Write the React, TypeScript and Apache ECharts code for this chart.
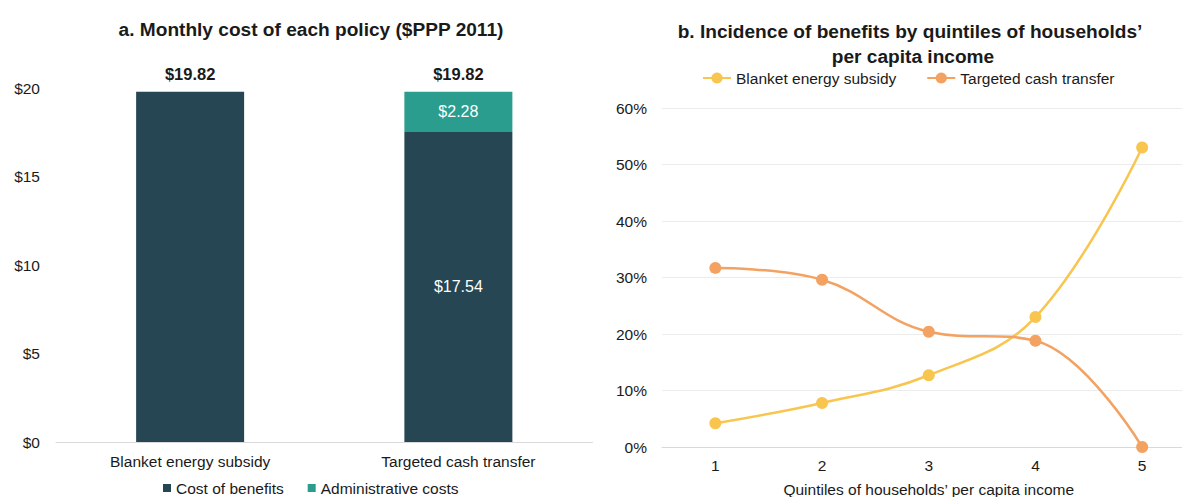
import React, { useEffect, useRef } from "react";
import * as echarts from "echarts";

const categories = ["Blanket energy subsidy", "Targeted cash transfer"];
const costOfBenefits = [19.82, 17.54];
const adminCosts = [0, 2.28];
const costTicksMax = 20;
const costTickStep = 5;

const quintiles = ["1", "2", "3", "4", "5"];
const blanketSubsidy = [4.2, 7.8, 12.7, 23.0, 53.0];
const targetedTransfer = [31.7, 29.6, 20.4, 18.8, 0.0];
const shareTicksMax = 60;
const shareTickStep = 10;

const titleA = "a. Monthly cost of each policy ($PPP 2011)";
const titleB1 = "b. Incidence of benefits by quintiles of households’";
const titleB2 = "per capita income";
const xNameB = "Quintiles of households’ per capita income";

const FONT = '"Liberation Sans", Arial, Helvetica, sans-serif';
const TXT = "#1a1a1a";
const DARK = "#264653";
const TEAL = "#2A9D8F";
const YELLOW = "#F8C64E";
const ORANGE = "#F4A261";
const LBL = 15.5;

export default function App() {
  const ref = useRef<HTMLDivElement>(null);
  useEffect(() => {
    if (!ref.current) return;
    const chart = echarts.init(ref.current, null, { renderer: "svg" });
    const totals = categories.map((_, i) => costOfBenefits[i] + adminCosts[i]);
    const money = (v: number) => "$" + v.toFixed(2);
    const titleStyle = {
      textAlign: "center",
      textVerticalAlign: "middle",
      fontSize: 19.1,
      fontWeight: "bold",
      fontFamily: FONT,
      fill: TXT,
    };
    const option: any = {
      animation: false,
      textStyle: { fontFamily: FONT, color: TXT },
      graphic: [
        { type: "text", x: 311, y: 29, style: { ...titleStyle, text: titleA } },
        { type: "text", x: 910, y: 31, style: { ...titleStyle, text: titleB1 } },
        { type: "text", x: 913, y: 56, style: { ...titleStyle, text: titleB2 } },
      ],
      legend: [
        {
          data: ["Cost of benefits", "Administrative costs"],
          left: 163,
          top: 480,
          padding: 0,
          itemWidth: 8,
          itemHeight: 8,
          itemGap: 24,
          icon: "rect",
          textStyle: { fontSize: LBL, color: TXT, fontFamily: FONT },
        },
        {
          data: ["Blanket energy subsidy", "Targeted cash transfer"],
          left: 702,
          top: 70,
          padding: 0,
          itemWidth: 28,
          itemHeight: 14,
          itemGap: 30,
          textStyle: { fontSize: LBL, color: TXT, fontFamily: FONT },
        },
      ],
      grid: [
        { left: 56, top: 88.5, width: 536.5, height: 353.5, outerBoundsMode: "none", containLabel: false },
        { left: 662, top: 108, width: 533.5, height: 339, outerBoundsMode: "none", containLabel: false },
      ],
      xAxis: [
        {
          type: "category",
          gridIndex: 0,
          data: categories,
          axisLine: { lineStyle: { color: "#d9d9d9", width: 1 } },
          axisTick: { show: false },
          axisLabel: { fontSize: LBL, color: TXT, margin: 11, fontFamily: FONT },
        },
        {
          type: "category",
          gridIndex: 1,
          data: quintiles,
          name: xNameB,
          nameLocation: "middle",
          nameGap: 34,
          nameTextStyle: { fontSize: LBL, color: TXT, fontFamily: FONT },
          axisLine: { lineStyle: { color: "#d9d9d9", width: 1 } },
          axisTick: { show: false },
          axisLabel: { fontSize: LBL, color: TXT, margin: 10, fontFamily: FONT },
        },
      ],
      yAxis: [
        {
          type: "value",
          gridIndex: 0,
          min: 0,
          max: costTicksMax,
          interval: costTickStep,
          axisLine: { show: false },
          axisTick: { show: false },
          splitLine: { show: false },
          axisLabel: {
            fontSize: LBL,
            color: TXT,
            margin: 16,
            fontFamily: FONT,
            formatter: (v: number) => "$" + v,
          },
        },
        {
          type: "value",
          gridIndex: 1,
          min: 0,
          max: shareTicksMax,
          interval: shareTickStep,
          axisLine: { show: false },
          axisTick: { show: false },
          splitLine: { lineStyle: { color: "#ececec", width: 1 } },
          axisLabel: {
            fontSize: LBL,
            color: TXT,
            margin: 15,
            fontFamily: FONT,
            formatter: (v: number) => v + "%",
          },
        },
      ],
      series: [
        {
          name: "Cost of benefits",
          type: "bar",
          xAxisIndex: 0,
          yAxisIndex: 0,
          stack: "cost",
          barWidth: 108,
          itemStyle: { color: DARK },
          data: costOfBenefits.map((v, i) => ({
            value: v,
            label:
              adminCosts[i] > 0
                ? {
                    show: true,
                    position: "inside",
                    color: "#ffffff",
                    fontSize: 16,
                    fontFamily: FONT,
                    formatter: () => money(v),
                  }
                : { show: false },
          })),
        },
        {
          name: "Administrative costs",
          type: "bar",
          xAxisIndex: 0,
          yAxisIndex: 0,
          stack: "cost",
          barWidth: 108,
          itemStyle: { color: TEAL },
          label: {
            show: true,
            position: "inside",
            color: "#ffffff",
            fontSize: 16,
            fontFamily: FONT,
            formatter: (p: any) => (p.value > 0 ? money(p.value) : ""),
          },
          data: adminCosts,
        },
        {
          name: "Total",
          type: "bar",
          xAxisIndex: 0,
          yAxisIndex: 0,
          stack: "cost",
          barWidth: 108,
          itemStyle: { color: "transparent" },
          label: {
            show: true,
            position: "top",
            distance: 9,
            color: TXT,
            fontSize: 16.5,
            fontWeight: "bold",
            fontFamily: FONT,
            formatter: (p: any) => money(totals[p.dataIndex]),
          },
          data: totals.map(() => 0),
        },
        {
          name: "Blanket energy subsidy",
          type: "line",
          xAxisIndex: 1,
          yAxisIndex: 1,
          smooth: 0.4,
          symbol: "circle",
          symbolSize: 12,
          lineStyle: { color: YELLOW, width: 2.5 },
          itemStyle: { color: YELLOW },
          data: blanketSubsidy,
        },
        {
          name: "Targeted cash transfer",
          type: "line",
          xAxisIndex: 1,
          yAxisIndex: 1,
          smooth: 0.4,
          symbol: "circle",
          symbolSize: 12,
          lineStyle: { color: ORANGE, width: 2.5 },
          itemStyle: { color: ORANGE },
          data: targetedTransfer,
        },
      ],
    };
    chart.setOption(option);
    return () => chart.dispose();
  }, []);
  return (
    <div
      style={{
        position: "fixed",
        left: 0,
        top: 0,
        width: 1182,
        height: 497,
        overflow: "hidden",
        background: "#ffffff",
      }}
    >
      <div ref={ref} style={{ width: 1182, height: 497 }} />
    </div>
  );
}
